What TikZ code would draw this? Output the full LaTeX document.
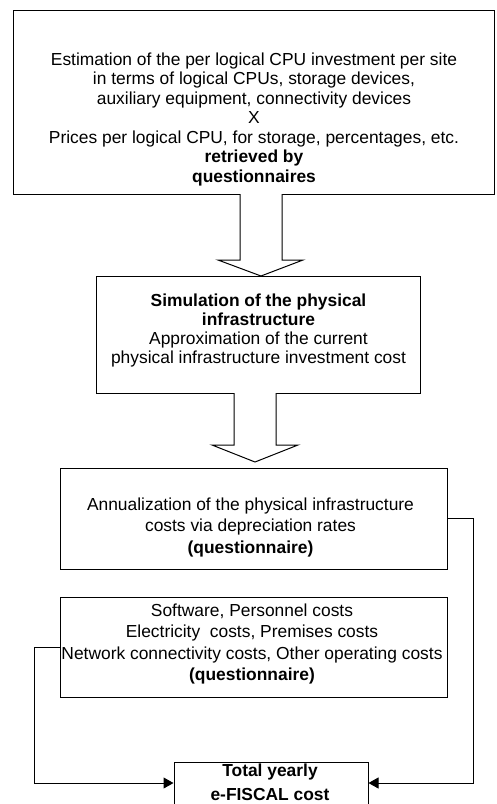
\documentclass[tikz,border=0pt]{standalone}
\usepackage{fontspec}
\setmainfont{Liberation Sans}
\usetikzlibrary{arrows.meta}
\begin{document}
\begin{tikzpicture}[x=1pt,y=-1pt,
  box/.style={draw, line width=1pt, rectangle, inner sep=0pt},
  txta/.style={align=center, inner sep=0pt, anchor=base, font=\fontsize{17.4}{19.5}\selectfont},
  txtb/.style={align=center, inner sep=0pt, anchor=base, font=\fontsize{17.4}{21.4}\selectfont},
  hollow/.style={draw, line width=1pt, fill=white, line join=miter},
  conn/.style={draw, line width=1pt, -{Triangle[length=10pt,width=11pt]}}]
\clip (0,0) rectangle (496,804);
% boxes
\node[box, minimum width=481.5pt, minimum height=184pt] (top) at (253.75,102) {};
\node[box, minimum width=324pt, minimum height=117pt] (sim) at (258,334.5) {};
\node[box, minimum width=387pt, minimum height=101pt] (ann) at (253.5,518.5) {};
\node[box, minimum width=387pt, minimum height=100pt] (ops) at (253.5,647) {};
\node[box, minimum width=194pt, minimum height=50pt] (tot) at (271,787) {};
% texts (anchored at the baseline of the last line)
\node[txta] (toptext) at (254,182) {Estimation of the per logical CPU investment per site\\in terms of logical CPUs, storage devices,\\auxiliary equipment, connectivity devices\\X\\Prices per logical CPU, for storage, percentages, etc.\\\textbf{retrieved by}\\\textbf{questionnaires}};
\node[txta, font=\fontsize{17.4}{19}\selectfont] (simtext) at (258.5,363) {\textbf{Simulation of the physical}\\\textbf{infrastructure}\\Approximation of the current\\physical infrastructure investment cost};
\node[txtb] (anntext) at (250.5,553) {Annualization of the physical infrastructure\\costs via depreciation rates\\\textbf{(questionnaire)}};
\node[txtb] (opstext) at (252,680.7) {Software, Personnel costs\\Electricity~ costs, Premises costs\\Network connectivity costs, Other operating costs\\\textbf{(questionnaire)}};
\node[txtb, font=\bfseries\fontsize{17.4}{24}\selectfont] (tottext) at (270,800) {Total yearly\\e-FISCAL cost};
% hollow arrows
\draw[hollow] (240,194) -- (240,260) -- (218,260) -- (261,276) -- (303,260) -- (282,260) -- (282,194);
\draw[hollow] (234,393) -- (234,445) -- (212,445) -- (255,462) -- (298,445) -- (276,445) -- (276,393);
% connectors
\coordinate (rc) at (473,783);
\coordinate (lc) at (34,783);
\draw[conn] (ann.east) -| (rc) -- (tot.east |- rc);
\draw[conn] (ops.west) -| (lc) -- (tot.west |- lc);
\end{tikzpicture}
\end{document}
